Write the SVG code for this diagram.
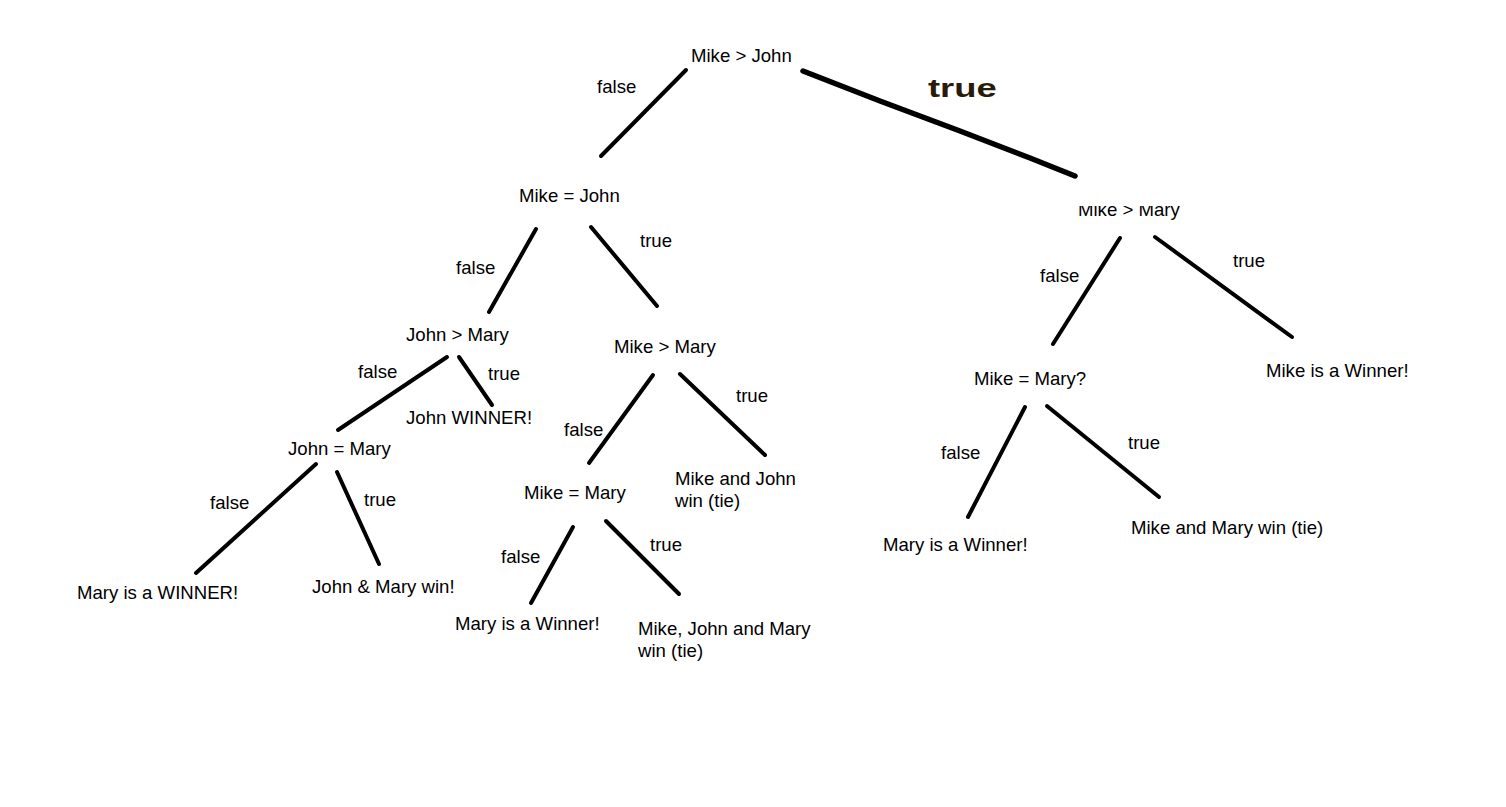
<svg xmlns="http://www.w3.org/2000/svg" width="1506" height="807" viewBox="0 0 1506 807">
<style>
text{font-family:"Liberation Sans",Arial,sans-serif;font-size:18.6px;fill:#000}
.e{stroke:#000;stroke-width:4;stroke-linecap:round;fill:none}
.big{font-weight:bold;font-size:26px;fill:#2a1a08}
</style>
<defs><clipPath id="cp"><rect x="1060" y="206" width="140" height="30"/></clipPath></defs>
<rect width="1506" height="807" fill="#fff"/>
<g id="connectors">
<line class="e" x1="686" y1="70" x2="601" y2="156"/>
<path class="e" style="stroke-width:5.5" d="M803,71 L880,101 L960,131 L1030,158 L1075,176"/>
<line class="e" x1="536" y1="229" x2="489" y2="312"/>
<line class="e" x1="591" y1="227" x2="657" y2="306"/>
<line class="e" x1="447" y1="357" x2="338" y2="430"/>
<line class="e" x1="459" y1="357" x2="492" y2="405"/>
<line class="e" x1="316" y1="464" x2="196" y2="573"/>
<line class="e" x1="337" y1="472" x2="379" y2="564"/>
<line class="e" x1="653" y1="375" x2="589" y2="463"/>
<line class="e" x1="680" y1="374" x2="765" y2="455"/>
<line class="e" x1="573" y1="527" x2="531" y2="603"/>
<line class="e" x1="606" y1="521" x2="679" y2="594"/>
<line class="e" x1="1120" y1="238" x2="1053" y2="344"/>
<line class="e" x1="1155" y1="237" x2="1292" y2="337"/>
<line class="e" x1="1025" y1="407" x2="968" y2="517"/>
<line class="e" x1="1047" y1="406" x2="1159" y2="497"/>
</g>
<g id="labels">
<text x="597" y="93">false</text>
<text class="big" x="928" y="97" transform="translate(928 97) scale(1.4 1) translate(-928 -97)">true</text>
<text x="456" y="274">false</text>
<text x="640" y="247">true</text>
<text x="358" y="378">false</text>
<text x="488" y="380">true</text>
<text x="210" y="509">false</text>
<text x="364" y="506">true</text>
<text x="564" y="436">false</text>
<text x="736" y="402">true</text>
<text x="501" y="563">false</text>
<text x="650" y="551">true</text>
<text x="1040" y="282">false</text>
<text x="1233" y="267">true</text>
<text x="941" y="459">false</text>
<text x="1128" y="449">true</text>
</g>
<g id="n1"><text x="691" y="62">Mike &gt; John</text></g>
<g id="n2"><text x="519" y="202">Mike = John</text></g>
<g id="n3"><text x="1078" y="216" clip-path="url(#cp)">Mike &gt; Mary</text></g>
<g id="n4"><text x="406" y="341">John &gt; Mary</text></g>
<g id="n5"><text x="614" y="353">Mike &gt; Mary</text></g>
<g id="n6"><text x="406" y="424">John WINNER!</text></g>
<g id="n7"><text x="288" y="455">John = Mary</text></g>
<g id="n8"><text x="77" y="599">Mary is a WINNER!</text></g>
<g id="n9"><text x="312" y="593">John &amp; Mary win!</text></g>
<g id="n10"><text x="675" y="485">Mike and John</text><text x="675" y="507">win (tie)</text></g>
<g id="n11"><text x="524" y="499">Mike = Mary</text></g>
<g id="n12"><text x="455" y="630">Mary is a Winner!</text></g>
<g id="n13"><text x="638" y="635">Mike, John and Mary</text><text x="638" y="657">win (tie)</text></g>
<g id="n14"><text x="1266" y="377">Mike is a Winner!</text></g>
<g id="n15"><text x="974" y="385">Mike = Mary?</text></g>
<g id="n16"><text x="883" y="551">Mary is a Winner!</text></g>
<g id="n17"><text x="1131" y="534">Mike and Mary win (tie)</text></g>
</svg>
